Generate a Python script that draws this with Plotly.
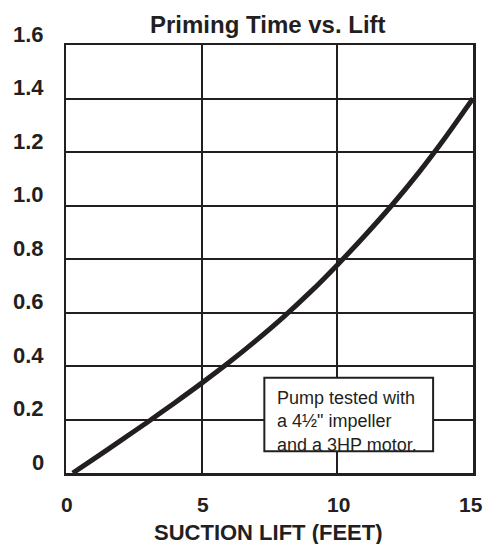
import plotly.graph_objects as go

# ---- data ----
lift_ft = [0.25, 1, 2, 3, 4, 5, 6, 7, 8, 9, 10, 11, 12, 13, 14, 15]
priming_time = [0.0, 0.051, 0.12, 0.19, 0.262, 0.336, 0.413, 0.495, 0.582,
                0.676, 0.778, 0.886, 1.0, 1.123, 1.257, 1.4]

x_ticks = [0, 5, 10, 15]
x_tick_labels = ["0", "5", "10", "15"]
y_ticks = [0, 0.2, 0.4, 0.6, 0.8, 1.0, 1.2, 1.4, 1.6]
y_tick_labels = ["0", "0.2", "0.4", "0.6", "0.8", "1.0", "1.2", "1.4", "1.6"]

title_text = "Priming Time vs. Lift"
x_title = "SUCTION LIFT (FEET)"
note_lines = ["Pump tested with", "a 4\u00bd\" impeller", "and a 3HP motor."]
note_box = {"x0": 7.31, "x1": 13.53, "y0": 0.081, "y1": 0.356}

INK = "#231f20"
FONT = "Liberation Sans, Arial, sans-serif"

fig = go.Figure()
fig.add_trace(go.Scatter(
    x=lift_ft, y=priming_time, mode="lines",
    line=dict(color=INK, width=5, shape="spline", smoothing=0.8),
    hoverinfo="skip", showlegend=False,
))

fig.update_layout(
    width=484, height=544,
    margin=dict(l=66, r=11, t=45, b=71, autoexpand=False),
    paper_bgcolor="white", plot_bgcolor="white",
    font=dict(family=FONT, color=INK),
    showlegend=False,
)

fig.update_xaxes(
    range=[0, 15], tickvals=x_ticks, showticklabels=False, ticks="",
    showgrid=True, gridcolor=INK, gridwidth=2, automargin=False,
    showline=True, linecolor=INK, linewidth=2.5, mirror=True, zeroline=False,
    fixedrange=True,
)
fig.update_yaxes(
    range=[0, 1.6], tickvals=y_ticks, showticklabels=False, ticks="",
    showgrid=True, gridcolor=INK, gridwidth=2, automargin=False,
    showline=True, linecolor=INK, linewidth=2.5, mirror=True, zeroline=False,
    fixedrange=True,
)

# title
fig.add_annotation(
    x=0.5, xref="paper", y=1, yref="paper", text="<b>" + title_text + "</b>",
    showarrow=False, xanchor="center", yanchor="middle", xshift=-2, yshift=21,
    font=dict(size=24, color=INK, family=FONT),
)
# x-axis title
fig.add_annotation(
    x=0.5, xref="paper", y=0, yref="paper", text="<b>" + x_title + "</b>",
    showarrow=False, xanchor="center", yanchor="middle", xshift=-1, yshift=-59,
    font=dict(size=22, color=INK, family=FONT),
)

# y tick labels (printed slightly above their grid lines)
for v, lab in zip(y_ticks, y_tick_labels):
    fig.add_annotation(
        x=0, xref="paper", y=v, yref="y", text="<b>" + lab + "</b>",
        showarrow=False, xanchor="right", yanchor="middle",
        xshift=-20, yshift=11, font=dict(size=22, color=INK, family=FONT),
    )
# x tick labels
for v, lab in zip(x_ticks, x_tick_labels):
    fig.add_annotation(
        x=v, xref="x", y=0, yref="paper", text="<b>" + lab + "</b>",
        showarrow=False, xanchor="center", yanchor="middle",
        xshift=(-2 if v == 15 else 1), yshift=-31,
        font=dict(size=21, color=INK, family=FONT),
    )

fig.add_shape(type="rect", xref="x", yref="y", layer="above",
              x0=note_box["x0"], x1=note_box["x1"], y0=note_box["y0"], y1=note_box["y1"],
              fillcolor="white", line=dict(color=INK, width=2))
fig.add_annotation(
    x=note_box["x0"] + 0.40, xref="x", y=0.203, yref="y", yshift=-3,
    text="<br>".join(note_lines), align="left", showarrow=False,
    xanchor="left", yanchor="middle", font=dict(size=18, color=INK, family=FONT),
)

fig.write_html(
    "out.html",
    config={"displayModeBar": False, "staticPlot": True},
    post_script="document.body.style.margin='0';document.body.style.padding='0';"
                "document.documentElement.style.overflow='hidden';",
)
